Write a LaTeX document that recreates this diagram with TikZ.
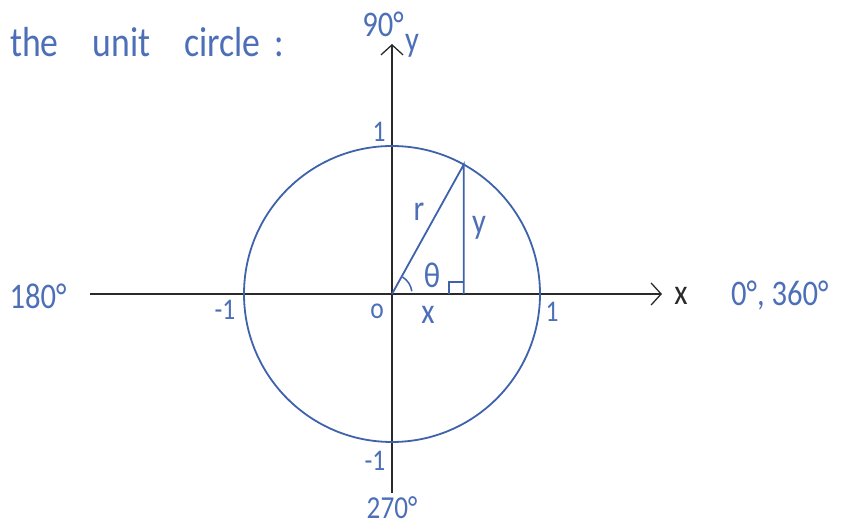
\documentclass[tikz,border=0pt]{standalone}
\usepackage{fontspec}
\setmainfont{Carlito}
\newfontfamily\handfont[FakeStretch=0.85]{Carlito}
\usetikzlibrary{arrows.meta}
\definecolor{inkblue}{HTML}{3F62AD}
\definecolor{textblue}{HTML}{4C6FB8}
\definecolor{axisgray}{HTML}{2A2A2A}
\begin{document}
\begin{tikzpicture}[x=1pt,y=1pt,
  axisline/.style={draw=axisgray, line width=1.3pt},
  axistip/.style={-{Straight Barb[length=10pt,width=22pt,line width=1.3pt]}},
  ink/.style={draw=inkblue, line width=1.8pt},
  lbl/.style={text=textblue, font=\handfont\fontsize{36}{36}\selectfont, inner sep=0pt},
  biglbl/.style={lbl, font=\handfont\fontsize{42}{42}\selectfont},
  smalllbl/.style={lbl, font=\handfont\fontsize{30}{30}\selectfont},
  axislbl/.style={text=axisgray, font=\handfont\fontsize{36}{36}\selectfont, inner sep=0pt}]
\useasboundingbox (0,0) rectangle (859,530);
\fill[white] (0,0) rectangle (859,530);
% geometry
\coordinate (O) at (392,236);
\coordinate (xs) at (90,236);
\coordinate (xe) at (662,236);
\coordinate (ys) at (392,37);
\coordinate (ye) at (392,486);
\coordinate (P) at ([shift={(61:148)}]O);
\coordinate (F) at (P |- O);
% axes
\draw[axisline, axistip] (xs) -- (xe);
\draw[axisline, axistip] (ys) -- (ye);
% circle and triangle
\draw[ink] (O) circle[radius=148];
\draw[ink] (O) -- (P) -- (F);
\draw[ink, line width=1.5pt] ([shift={(-15,0)}]F) -- ++(0,12) -- ++(15,0);
\draw[ink, line width=1.5pt] ([shift={(8:20)}]O) arc[start angle=8, end angle=58, radius=20];
% labels
\node[biglbl, anchor=west] (title) at (10,488) {the\hspace{34pt}unit\hspace{34pt}circle\hspace{14pt}:};
\node[lbl] (n90) at (383,506) {90°};
\node[axislbl, text=textblue] (ylab) at (412,484) {y};
\node[smalllbl] (one) at (379,398) {1};
\node[lbl] (rlab) at (419,318) {r};
\node[lbl] (ytri) at (479,302) {y};
\node[lbl] (theta) at (432,255) {θ};
\node[smalllbl] (olab) at (377,219) {o};
\node[lbl] (xtri) at (428,215) {x};
\node[smalllbl] (oneR) at (552,218) {1};
\node[smalllbl] (mOneL) at (225,220) {-1};
\node[lbl] (n180) at (38,234) {180°};
\node[axislbl] (xlab) at (681,234) {x};
\node[lbl, anchor=west] (n0) at (731,234) {0°, 360°};
\node[smalllbl] (mOneB) at (375,69) {-1};
\node[lbl, font=\handfont\fontsize{32}{32}\selectfont] (n270) at (392,22) {270°};
\end{tikzpicture}
\end{document}
